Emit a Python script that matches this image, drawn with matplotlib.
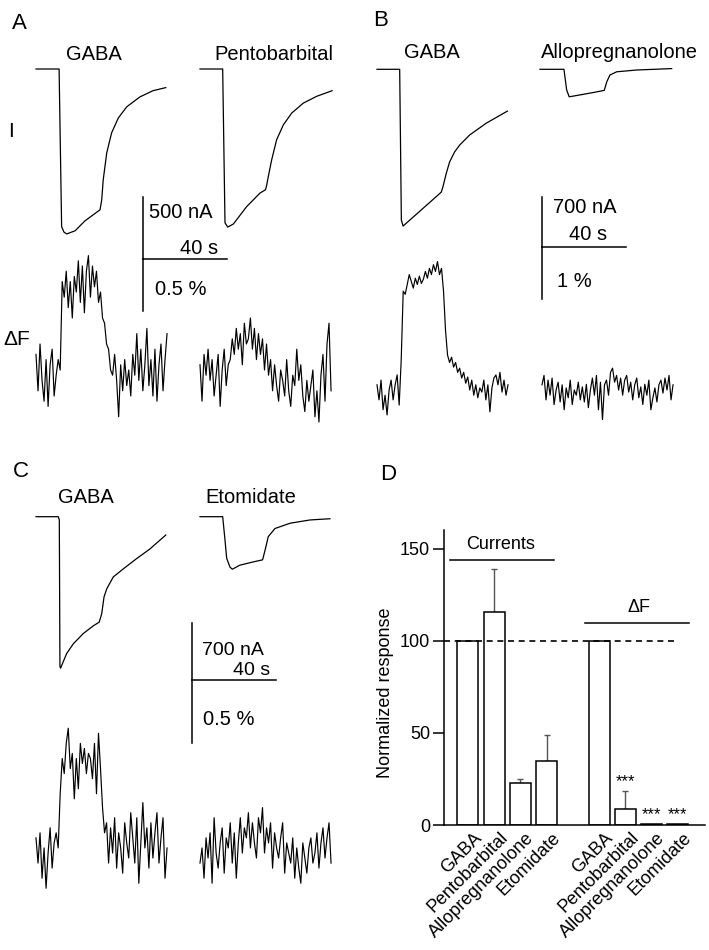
import numpy as np
import matplotlib
matplotlib.use("Agg")
import matplotlib.pyplot as plt
from matplotlib.transforms import ScaledTranslation

plt.rcParams["font.family"] = ["Liberation Sans", "DejaVu Sans"]

W, H = 709, 950

# ---- Current traces: time [s], current [nA] (inward = negative)
a_gaba_t = [0, 11.0, 12.2, 13.3, 14.6, 18.6, 23.3, 30.5, 31.3, 32.0, 33.7, 36.0, 39.2, 43.2, 49.5, 55.7, 61.8]
a_gaba_I = [0, 0, -1270, -1315, -1330, -1305, -1225, -1135, -1055, -895, -675, -515, -395, -305, -225, -175, -150]
a_pento_t = [0, 10.8, 11.9, 13.2, 15.9, 22.2, 28.6, 30.6, 31.1, 31.6, 32.5, 34.1, 36.5, 39.7, 43.7, 49.2, 55.6, 62.9]
a_pento_I = [0, 0, -1240, -1275, -1250, -1110, -1000, -980, -975, -950, -870, -735, -570, -450, -355, -275, -220, -175]

b_gaba_t = [0, 10.8, 11.6, 12.4, 30.6, 31.4, 33.0, 34.6, 37.0, 39.4, 44.1, 52.0, 62.1]
b_gaba_I = [0, 0, -2110, -2195, -1720, -1645, -1455, -1295, -1155, -1060, -920, -755, -585]
b_allo_t = [0, 11.4, 12.7, 13.9, 15.9, 25.4, 30.6, 31.8, 33.3, 36.5, 46.0, 62.7]
b_allo_I = [0, 0, -290, -385, -375, -325, -295, -175, -80, -35, -10, 10]

c_gaba_t = [0, 10.6, 11.1, 11.4, 11.7, 14.6, 17.8, 22.5, 27.3, 30.1, 31.3, 32.4, 33.7, 36.8, 41.6, 47.9, 54.3, 61.8]
c_gaba_I = [0, 0, -40, -1840, -1860, -1680, -1560, -1435, -1340, -1295, -1190, -985, -885, -740, -640, -515, -395, -225]
c_eto_t = [0, 10.8, 11.9, 12.7, 14.3, 15.4, 19.0, 25.4, 29.8, 31.0, 32.5, 35.7, 42.9, 52.4, 61.9]
c_eto_I = [0, 0, -285, -510, -620, -645, -595, -555, -530, -410, -245, -145, -80, -40, -25]

# ---- Fluorescence traces: dF [0.01 %], sampled every dt_F s
dt_F = 0.96
a_gaba_F = [15, -20, 25, -10, -30, 10, -35, 5, 20, -25, -5, 10,
            0, 85,
            70, 95, 60, 85, 50, 90, 75, 105, 65, 100, 55, 95, 110, 70, 100, 80, 95, 65,
            75, 50, 45, 25, 20, 0,
            -5, 15, -10, -45, 5, -20, 10, -15, 0, -25, 15, -5, 35, -10, 20, -20, 5, 40,
            -15, 10, -25, 20, -30, 5, 25, -20, 10, 35]
a_pento_F = [5, -30, 15, -5, 20, -10, 10, -25, -5, 15, -35, 0, 20, -15, 5,
             10, 30, 15, 40, 20, 35, 5, 45, 25, 30, 50, 20, 40, 10, 35, 15, 30, 0, 25,
             -5, 10, -20, 5, -15, -30, 0, -10, -25, 10, -20, -35, -5, -15, 20, -10,
             5, -25, -40, -10, -30, -15, 0, -45, -20, -50, -5, 15, -30, 25, 45, -20]
b_gaba_F = [10, -19, 19, -38, -10, -48, 0, 19, -19, 10, 29, -29,
            57, 190,
            184, 203, 222, 209, 196, 215, 203, 219, 205, 213, 228, 215, 234, 222, 241, 228, 247, 222, 234,
            190, 114, 67,
            53, 63, 44, 53, 34, 42, 23, 34, 13, 25, 0, 19, -10, 10, -15, 4, -4, 19, -19, 10,
            -42, 4, 23, 29, 10, 34, -4, 19, -10, 10]
b_allo_F = [10, 28, -19, 19, -10, 23, -28, 0, 15, -23, 10, -38, 4, -15, 19, -28, 0, -10, 15, -19,
            6, -23, 11, -34, 0, 23, -10, 28, -38, 15, -57, 10, 19, -10, 34, 42, 15, 28, 0, 23,
            -10, 19, 28, -4, 15, -19, 10, 23, -15, 6, -28, 11, -10, 19, -38, -15, 4, -23, 10, 19,
            -6, 23, 0, 28, -19, 10]
c_gaba_F = [12, -8, 16, -20, 4, -28, 0, 20, -12, 8, 16,
            4, 47, 75,
            63, 87, 99, 67, 79, 43, 75, 51, 87, 71, 83, 63, 79, 75, 59, 87, 47, 95, 67,
            36, 16,
            24, -8, 20, 0, 28, -12, 16, 4, -16, 24, 8, -4, 32, 12, -8, 28, -24, 8, 40, 4,
            20, -12, 24, -4, 16, 32, -8, 12, 28, -20, 4]
c_eto_F = [-8, 4, -20, 12, -4, 16, -24, 28, 0, -12, 8, 20, -16, 12, 4, 24, -8, 16, -20, 8,
           28, 0, 20, 12, 32, 4, 24, 8, -4, 28, 16, 36, 0, 20, 8, 24, -12, 16, 4, -4,
           12, 24, -16, 8, 0, -8, 12, -20, 4, -12, -24, 8, -4, -16, 4, 12, -8, 0, 16, -12,
           8, 20, -4, 12, 24, -8]

# ---- Panel D summary
drugs = ["GABA", "Pentobarbital", "Allopregnanolone", "Etomidate"]
curr_mean = [100, 116, 23, 35]
curr_err = [0, 23, 2, 14]
dF_mean = [100, 8.5, 0.6, 0.6]
dF_err = [0, 10, 0, 0]
dF_sig = ["", "***", "***", "***"]
ref_level = 100

fig = plt.figure(figsize=(W / 100, H / 100), dpi=100)


def trace_ax(x0, y0, sx, sy):
    # full-figure axes where data (t, v) lands at pixel (x0 + t*sx, y0 - v*sy)
    ax = fig.add_axes([0, 0, 1, 1])
    ax.set_xlim(-x0 / sx, (W - x0) / sx)
    ax.set_ylim((y0 - H) / sy, y0 / sy)
    ax.axis("off")
    ax.patch.set_visible(False)
    return ax


def txt(x, y, s, size=14.5, ha="center"):
    fig.text(x / W, 1 - y / H, s, fontsize=size, ha=ha, va="baseline")


sx = 2.1   # px per s
lw_tr = 0.9
lw_F = 0.85
lw_bar = 1.1

# per panel: traces (start px, data), px per nA, px per 0.01 %, baselines, scale-bar corner and sizes
panels = [
    dict(cur=[(36, a_gaba_t, a_gaba_I), (200, a_pento_t, a_pento_I)],
         flu=[(36, a_gaba_F), (200, a_pento_F)],
         sy_I=62 / 500, sy_F=52 / 50, y_I=69, y_F=370, corner=(143, 259), nA=500, pct=50),
    dict(cur=[(377, b_gaba_t, b_gaba_I), (540, b_allo_t, b_allo_I)],
         flu=[(377, b_gaba_F), (542, b_allo_F)],
         sy_I=50 / 700, sy_F=52 / 100, y_I=69.3, y_F=390, corner=(542, 247), nA=700, pct=100),
    dict(cur=[(36, c_gaba_t, c_gaba_I), (200, c_eto_t, c_eto_I)],
         flu=[(36, c_gaba_F), (200, c_eto_F)],
         sy_I=57 / 700, sy_F=63 / 50, y_I=516.7, y_F=853, corner=(192, 680), nA=700, pct=50),
]

for p in panels:
    for x0, t, I in p["cur"]:
        ax = trace_ax(x0, p["y_I"], sx, p["sy_I"])
        ax.plot(t, I, color="black", lw=lw_tr)
    for x0, F in p["flu"]:
        ax = trace_ax(x0, p["y_F"], sx, p["sy_F"])
        ax.plot(np.arange(len(F)) * dt_F, F, color="black", lw=lw_F)
    # scale bars
    cx, cy = p["corner"]
    axs = trace_ax(cx, cy, sx, p["sy_I"])
    axs.plot([0, 0], [0, p["nA"]], color="black", lw=lw_bar)
    axs.plot([0, 40], [0, 0], color="black", lw=lw_bar)
    axf = trace_ax(cx, cy, sx, p["sy_F"])
    axf.plot([0, 0], [0, -p["pct"]], color="black", lw=lw_bar)

# ---- Texts panel A
txt(12, 29, "A", 16, ha="left")
txt(94, 60, "GABA")
txt(274, 60, "Pentobarbital")
txt(11, 137, "I", 15)
txt(17, 345, "ΔF", 15)
txt(149, 218, "500 nA", ha="left")
txt(199, 254, "40 s")
txt(155, 295, "0.5 %", ha="left")

# ---- Texts panel B
txt(373, 26, "B", 16, ha="left")
txt(432, 58, "GABA")
txt(619, 58, "Allopregnanolone")
txt(553, 213, "700 nA", ha="left")
txt(588, 240, "40 s")
txt(557, 287, "1 %", ha="left")

# ---- Texts panel C
txt(13, 477, "C", 16, ha="left")
txt(86, 503, "GABA")
txt(251, 503, "Etomidate")
txt(202, 655, "700 nA", 14, ha="left")
txt(252, 675, "40 s", 14)
txt(203, 725, "0.5 %", ha="left")

txt(380, 480, "D", 16, ha="left")

# ---- Panel D bars
axd = fig.add_axes([444 / W, 1 - 825 / H, 261 / W, 295 / H])
curr_pos = np.arange(len(drugs))
dF_pos = np.arange(len(drugs)) + len(drugs) + 1
for pos, mean, err in [(curr_pos, curr_mean, curr_err), (dF_pos, dF_mean, dF_err)]:
    axd.bar(pos, mean, width=0.8, color="white", edgecolor="black", lw=lw_bar, zorder=2)
    err = np.array(err)
    m = err > 0
    axd.errorbar(pos[m], np.array(mean)[m], yerr=[np.zeros(m.sum()), err[m]], fmt="none",
                 ecolor="#555555", elinewidth=1.0, capsize=2.5, capthick=1.0, zorder=1)
for x, mean, err, s in zip(dF_pos, dF_mean, dF_err, dF_sig):
    if s:
        axd.text(x, mean + err + 2.5, s, ha="center", va="baseline", fontsize=12)

axd.plot([-0.914, 7.89], [ref_level, ref_level], color="black", lw=1.2,
         linestyle=(0, (3.6, 2.8)), zorder=3)
axd.plot([-0.69, 3.28], [144, 144], color="black", lw=lw_bar, clip_on=False)
axd.text(1.26, 150, "Currents", ha="center", va="baseline", fontsize=13)
axd.plot([4.46, 8.42], [109.8, 109.8], color="black", lw=lw_bar, clip_on=False)
axd.text(6.5, 115.5, "ΔF", ha="center", va="baseline", fontsize=13)

axd.set_xlim(-0.914, 9.03)
axd.set_ylim(0, 160.3)
axd.spines["top"].set_visible(False)
axd.spines["right"].set_visible(False)
axd.spines["left"].set_linewidth(lw_bar)
axd.spines["bottom"].set_linewidth(lw_bar)
axd.set_yticks([0, 50, 100, 150])
axd.tick_params(axis="y", direction="out", length=8, width=lw_bar, labelsize=13, pad=2)
axd.set_xticks(np.concatenate([curr_pos, dF_pos]))
axd.set_xticklabels(drugs + drugs, rotation=45, ha="right", rotation_mode="anchor", fontsize=13)
axd.tick_params(axis="x", length=0, pad=3)
offset = ScaledTranslation(5 / 100, 0, fig.dpi_scale_trans)
for lab in axd.get_xticklabels():
    lab.set_transform(lab.get_transform() + offset)
axd.set_ylabel("Normalized response", fontsize=13)
axd.yaxis.set_label_coords(-0.19, 0.45)

fig.savefig("out.png", dpi=100)
